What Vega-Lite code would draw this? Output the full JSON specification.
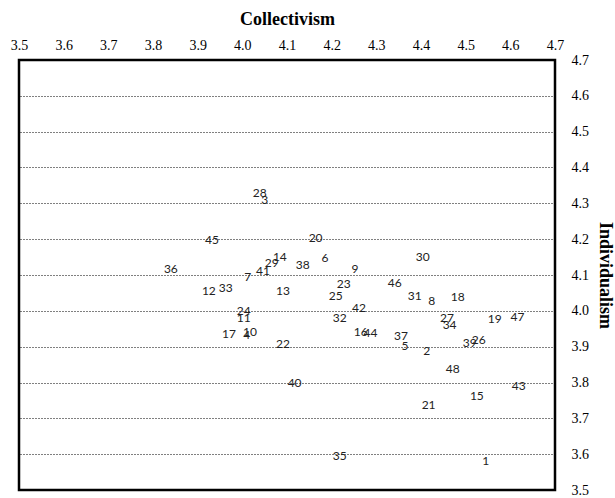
{
  "$schema": "https://vega.github.io/schema/vega-lite/v6.json",
  "autosize": "none",
  "width": 536,
  "height": 430,
  "padding": {"left": 19, "top": 60, "right": 60, "bottom": 8},
  "background": "white",
  "config": {
    "view": {"stroke": "black", "strokeWidth": 2.5},
    "axis": {
      "labelFont": "Liberation Serif",
      "labelFontSize": 14,
      "labelColor": "black",
      "titleFont": "Liberation Serif",
      "titleFontSize": 18,
      "titleFontWeight": "bold",
      "titleColor": "black"
    }
  },
  "data": {
    "values": [
      {"id": "28", "c": 4.039, "i": 4.330},
      {"id": "3", "c": 4.050, "i": 4.310},
      {"id": "45", "c": 3.932, "i": 4.198},
      {"id": "20", "c": 4.164, "i": 4.204},
      {"id": "14", "c": 4.084, "i": 4.151},
      {"id": "29", "c": 4.066, "i": 4.134},
      {"id": "6", "c": 4.185, "i": 4.148},
      {"id": "38", "c": 4.135, "i": 4.128},
      {"id": "9", "c": 4.252, "i": 4.117},
      {"id": "30", "c": 4.404, "i": 4.151},
      {"id": "36", "c": 3.840, "i": 4.117},
      {"id": "41", "c": 4.046, "i": 4.112},
      {"id": "7", "c": 4.012, "i": 4.095},
      {"id": "46", "c": 4.341, "i": 4.078},
      {"id": "23", "c": 4.227, "i": 4.075},
      {"id": "12", "c": 3.925, "i": 4.056},
      {"id": "33", "c": 3.963, "i": 4.064},
      {"id": "13", "c": 4.091, "i": 4.056},
      {"id": "25", "c": 4.209, "i": 4.042},
      {"id": "31", "c": 4.386, "i": 4.042},
      {"id": "8", "c": 4.424, "i": 4.028},
      {"id": "18", "c": 4.482, "i": 4.039},
      {"id": "42", "c": 4.261, "i": 4.008},
      {"id": "24", "c": 4.003, "i": 4.000},
      {"id": "11", "c": 4.003, "i": 3.980},
      {"id": "32", "c": 4.218, "i": 3.980},
      {"id": "27", "c": 4.458, "i": 3.980},
      {"id": "19", "c": 4.565, "i": 3.978},
      {"id": "47", "c": 4.616, "i": 3.983},
      {"id": "34", "c": 4.464, "i": 3.961},
      {"id": "17", "c": 3.970, "i": 3.936},
      {"id": "10", "c": 4.017, "i": 3.941},
      {"id": "4", "c": 4.010, "i": 3.933},
      {"id": "16", "c": 4.265, "i": 3.941},
      {"id": "44", "c": 4.287, "i": 3.939},
      {"id": "37", "c": 4.355, "i": 3.930},
      {"id": "5", "c": 4.364, "i": 3.902},
      {"id": "2", "c": 4.413, "i": 3.888},
      {"id": "26", "c": 4.529, "i": 3.919},
      {"id": "39", "c": 4.509, "i": 3.911},
      {"id": "22", "c": 4.091, "i": 3.908},
      {"id": "48", "c": 4.471, "i": 3.838},
      {"id": "40", "c": 4.117, "i": 3.799},
      {"id": "43", "c": 4.619, "i": 3.790},
      {"id": "15", "c": 4.525, "i": 3.763},
      {"id": "21", "c": 4.417, "i": 3.737},
      {"id": "35", "c": 4.218, "i": 3.595},
      {"id": "1", "c": 4.545, "i": 3.581}
    ]
  },
  "mark": {"type": "text", "font": "Lato", "fontSize": 12, "color": "#222222", "align": "center", "baseline": "middle"},
  "encoding": {
    "x": {
      "field": "c", "type": "quantitative",
      "scale": {"domain": [3.5, 4.7], "nice": false, "zero": false},
      "axis": {
        "orient": "top", "title": "Collectivism", "grid": false, "ticks": false, "domain": false,
        "values": [3.5, 3.6, 3.7, 3.8, 3.9, 4.0, 4.1, 4.2, 4.3, 4.4, 4.5, 4.6, 4.7],
        "format": ".1f", "labelFlush": false, "labelOverlap": false, "labelPadding": 8, "titlePadding": 10
      }
    },
    "y": {
      "field": "i", "type": "quantitative",
      "scale": {"domain": [3.5, 4.7], "nice": false, "zero": false},
      "axis": {
        "orient": "right", "title": "Individualism", "grid": true, "gridColor": "black", "gridDash": [1, 2], "gridWidth": 1,
        "ticks": false, "domain": false,
        "values": [3.5, 3.6, 3.7, 3.8, 3.9, 4.0, 4.1, 4.2, 4.3, 4.4, 4.5, 4.6, 4.7],
        "format": ".1f", "labelFlush": false, "labelOverlap": false, "labelPadding": 16, "titleAngle": 90, "titlePadding": 7
      }
    },
    "text": {"field": "id", "type": "nominal"}
  }
}
